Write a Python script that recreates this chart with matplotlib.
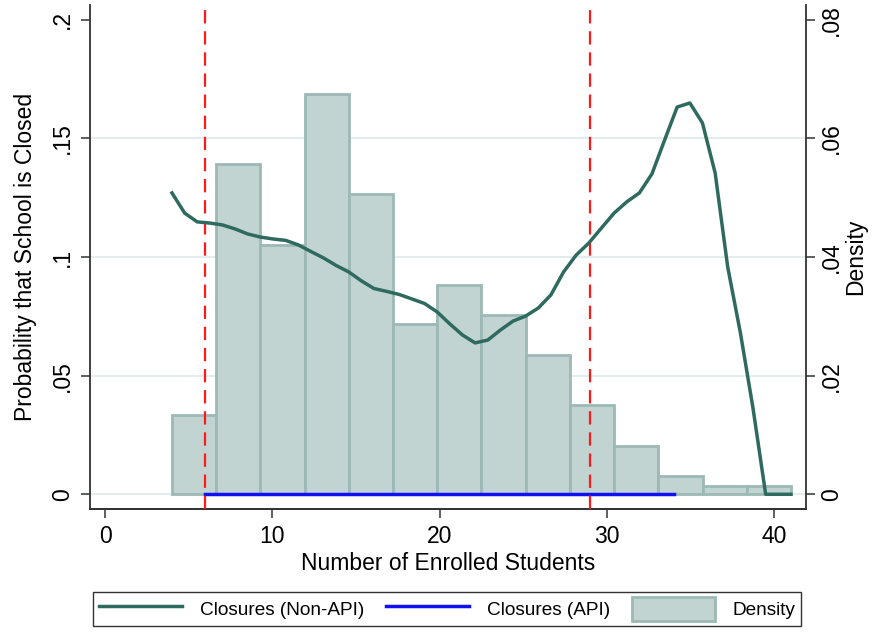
import numpy as np
import matplotlib
matplotlib.use('Agg')
import matplotlib.pyplot as plt
from matplotlib.lines import Line2D
from matplotlib.patches import Patch

plt.rcParams['font.family'] = ['Liberation Sans', 'DejaVu Sans']

# Histogram of enrolment (right axis, density)
bin_start = 4.0
bin_width = 2.643
density = [0.0134, 0.0556, 0.0420, 0.0675, 0.0506, 0.0287, 0.0353,
           0.0302, 0.0235, 0.0150, 0.0082, 0.0031, 0.0014, 0.0014]

# Predicted closure probability for non-API schools (left axis)
enroll_grid = [4.00, 4.76, 5.51, 6.27, 7.02, 7.78, 8.53, 9.29, 10.04, 10.80,
               11.55, 12.31, 13.06, 13.82, 14.57, 15.33, 16.08, 16.84, 17.59, 18.35,
               19.10, 19.86, 20.61, 21.37, 22.12, 22.88, 23.63, 24.39, 25.14, 25.90,
               26.65, 27.41, 28.16, 28.92, 29.67, 30.43, 31.18, 31.94, 32.69, 33.45,
               34.20, 34.96, 35.71, 36.47, 37.22, 37.98, 38.73, 39.49, 40.24, 41.00]
p_closed_nonapi = [0.1270, 0.1185, 0.1148, 0.1143, 0.1135, 0.1118, 0.1097, 0.1084, 0.1076, 0.1070,
                   0.1051, 0.1023, 0.0996, 0.0964, 0.0937, 0.0899, 0.0867, 0.0855, 0.0842, 0.0823,
                   0.0804, 0.0768, 0.0718, 0.0671, 0.0638, 0.0650, 0.0692, 0.0730, 0.0751, 0.0785,
                   0.0840, 0.0937, 0.1008, 0.1059, 0.1122, 0.1185, 0.1232, 0.1270, 0.1350, 0.1493,
                   0.1632, 0.1649, 0.1565, 0.1354, 0.0958, 0.0680, 0.0364, 0.0, 0.0, 0.0]

# API schools: zero closures over their enrolment range
api_x = [6, 34]
api_y = [0, 0]

cutoffs = [6, 29]

line_col = '#2e6a60'
bar_face = '#c1d4d2'
bar_edge = '#9cb9b5'
grid_col = '#e4eded'
axis_col = '#333333'

fig = plt.figure(figsize=(8.72, 6.33), dpi=100)
ax1 = fig.add_axes([0.1032, 0.1959, 0.8211, 0.7962])
ax2 = ax1.twinx()

# bars sit behind the line axes
ax1.set_zorder(2)
ax1.patch.set_visible(False)
ax2.set_zorder(1)

for yv in [0, 0.02, 0.04, 0.06]:
    ax2.axhline(yv, color=grid_col, lw=1.5, zorder=0)

edges = [bin_start + i * bin_width for i in range(len(density))]
ax2.bar(edges, density, width=bin_width, align='edge', color=bar_face,
        edgecolor=bar_edge, linewidth=2, zorder=1)

ax1.plot(enroll_grid, p_closed_nonapi, color=line_col, lw=2.5, zorder=4)
ax1.plot(api_x, api_y, color='#1010f0', lw=2.5, zorder=3)
for c in cutoffs:
    ax1.axvline(c, color='#ff1a1a', lw=1.6, ls=(0, (6, 3.5)), zorder=3)

ax1.set_xlim(-0.9, 41.9)
ax1.set_ylim(-0.0062, 0.2062)
ax2.set_ylim(-0.00248, 0.08248)

ax1.set_xticks([0, 10, 20, 30, 40])
ax1.set_yticks([0, 0.05, 0.1, 0.15, 0.2])
ax1.set_yticklabels(['0', '.05', '.1', '.15', '.2'], rotation=90, va='center')
ax2.set_yticks([0, 0.02, 0.04, 0.06, 0.08])
ax2.set_yticklabels(['0', '.02', '.04', '.06', '.08'], rotation=90, va='center')

for ax in (ax1, ax2):
    ax.spines['top'].set_visible(False)
    for s in ('left', 'right', 'bottom'):
        ax.spines[s].set_color(axis_col)
        ax.spines[s].set_linewidth(1.3)
    ax.tick_params(length=6.5, width=1.1, color=axis_col, labelsize=16.5, pad=5)
ax2.spines['left'].set_visible(False)
ax1.spines['right'].set_visible(False)
ax2.tick_params(pad=3.5)

ax1.set_xlabel('Number of Enrolled Students', fontsize=16.5, labelpad=3)
ax1.set_ylabel('Probability that School is Closed', fontsize=16.5, labelpad=10)
ax2.set_ylabel('Density', fontsize=16.5, labelpad=1)

handles = [Line2D([], [], color=line_col, lw=2.5),
           Line2D([], [], color='#1010f0', lw=2.5),
           Patch(facecolor=bar_face, edgecolor=bar_edge, linewidth=2)]
labels = ['Closures (Non-API)', 'Closures (API)', 'Density']
leg = fig.legend(handles, labels, loc='center', bbox_to_anchor=(0.5126, 0.0379),
                 ncol=3, fontsize=13.7, frameon=True, fancybox=False,
                 handlelength=4.4, handleheight=1.5, handletextpad=0.9,
                 columnspacing=1.15, borderpad=0.3, borderaxespad=0)
leg.get_frame().set_edgecolor('black')
leg.get_frame().set_linewidth(1.0)

fig.savefig('out.png', dpi=100)
